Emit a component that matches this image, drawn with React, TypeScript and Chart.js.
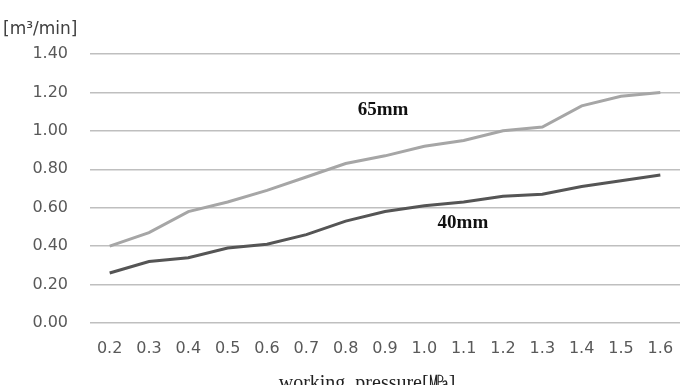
import React, { useEffect, useRef } from "react";
import { Chart, registerables } from "chart.js";

Chart.register(...registerables);

const categories = ["0.2", "0.3", "0.4", "0.5", "0.6", "0.7", "0.8", "0.9", "1.0", "1.1", "1.2", "1.3", "1.4", "1.5", "1.6"];
const series65 = [0.40, 0.47, 0.58, 0.63, 0.69, 0.76, 0.83, 0.87, 0.92, 0.95, 1.00, 1.02, 1.13, 1.18, 1.20];
const series40 = [0.26, 0.32, 0.34, 0.39, 0.41, 0.46, 0.53, 0.58, 0.61, 0.63, 0.66, 0.67, 0.71, 0.74, 0.77];
const yTicks = [0, 0.2, 0.4, 0.6, 0.8, 1.0, 1.2, 1.4];
const seriesNames = ["65mm", "40mm"];

const labelPlugin = {
  id: "labels",
  afterDraw(chart: any) {
    const ctx = chart.ctx;
    const xs = chart.scales.x;
    const ys = chart.scales.y;
    ctx.save();
    ctx.fillStyle = "#111";
    ctx.font = "bold 19px 'Liberation Serif', serif";
    ctx.textAlign = "center";
    ctx.textBaseline = "middle";
    ctx.fillText(seriesNames[0], xs.getPixelForValue(6.95), ys.getPixelForValue(1.108));
    ctx.fillText(seriesNames[1], xs.getPixelForValue(8.98), ys.getPixelForValue(0.52));
    // axis titles
    ctx.fillStyle = "#404040";
    ctx.font = "17px 'DejaVu Sans', sans-serif";
    ctx.textAlign = "left";
    ctx.fillText("[m³/min]", 3, 30);
    ctx.fillStyle = "#222";
    ctx.font = "20px 'Liberation Serif', serif";
    ctx.textAlign = "center";
    ctx.fillText("working  pressure[㎫]", 367, 384);
    ctx.restore();
  },
};

export default function App() {
  const ref = useRef<HTMLCanvasElement | null>(null);
  useEffect(() => {
    document.body.style.margin = "0";
    const chart = new Chart(ref.current as HTMLCanvasElement, {
      type: "line",
      data: {
        labels: categories,
        datasets: [
          { label: seriesNames[0], data: series65, borderColor: "#a6a6a6", borderWidth: 3, pointRadius: 0, tension: 0 },
          { label: seriesNames[1], data: series40, borderColor: "#555555", borderWidth: 3, pointRadius: 0, tension: 0 },
        ],
      },
      options: {
        animation: false,
        responsive: false,
        maintainAspectRatio: false,
        layout: { padding: { top: 54, right: 0, left: 0, bottom: 0 } },
        plugins: { legend: { display: false }, tooltip: { enabled: false } },
        scales: {
          x: {
            type: "category",
            offset: true,
            grid: { display: false, drawTicks: false },
            border: { display: false },
            ticks: { color: "#595959", font: { family: "'DejaVu Sans', sans-serif", size: 16 }, padding: 16, maxRotation: 0, autoSkip: false },
            afterFit: (s: any) => { s.height = 62; s.paddingLeft = 0; s.paddingRight = 0; },
          },
          y: {
            min: 0,
            max: 1.4,
            afterBuildTicks: (s: any) => { s.ticks = yTicks.map((v) => ({ value: v })); },
            grid: { color: "#bfbfbf", lineWidth: 1.5, drawTicks: false },
            border: { display: false },
            ticks: { color: "#595959", font: { family: "'DejaVu Sans', sans-serif", size: 16 }, padding: 22, callback: (v: any) => Number(v).toFixed(2) },
            afterFit: (s: any) => { s.width = 90; s.paddingTop = 0; s.paddingBottom = 0; },
          },
        },
      },
      plugins: [labelPlugin],
    });
    return () => chart.destroy();
  }, []);
  return <canvas ref={ref} width={680} height={385} style={{ display: "block" }} />;
}
